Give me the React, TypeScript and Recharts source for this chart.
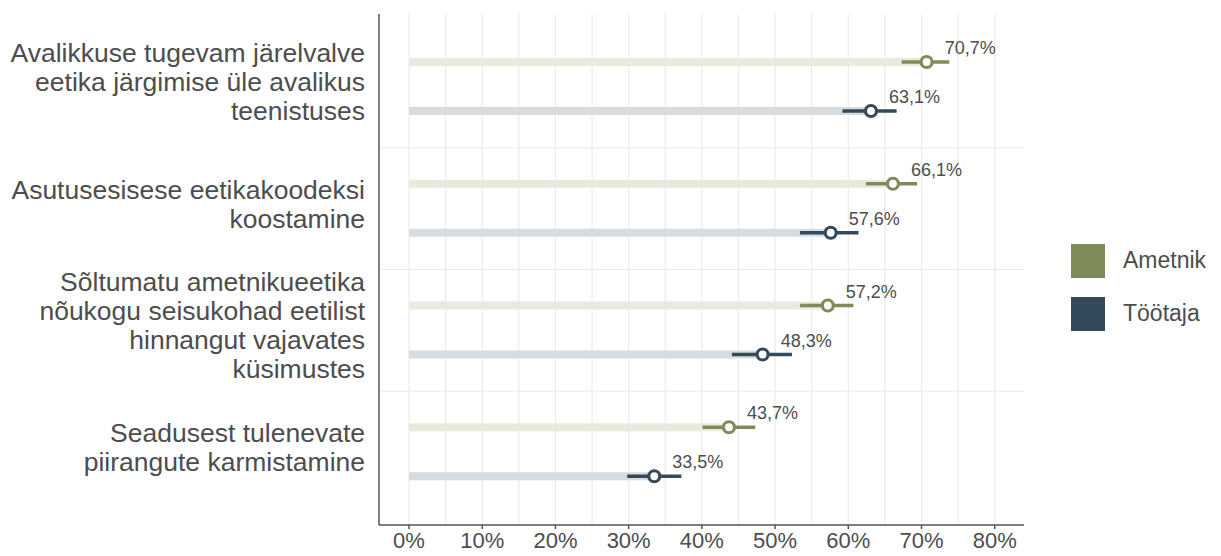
import React from 'react';
import {
  ComposedChart,
  Bar,
  ErrorBar,
  LabelList,
  XAxis,
  YAxis,
  CartesianGrid
} from 'recharts';

const categories = [
  'Avalikkuse tugevam järelvalve\neetika järgimise üle avalikus\nteenistuses',
  'Asutusesisese eetikakoodeksi\nkoostamine',
  'Sõltumatu ametnikueetika\nnõukogu seisukohad eetilist\nhinnangut vajavates\nküsimustes',
  'Seadusest tulenevate\npiirangute karmistamine'
];

const ametnikValues = [70.7, 66.1, 57.2, 43.7];
const ametnikLow = [67.3, 62.4, 53.4, 40.1];
const ametnikHigh = [73.8, 69.4, 60.7, 47.3];

const tootajaValues = [63.1, 57.6, 48.3, 33.5];
const tootajaLow = [59.2, 53.4, 44.1, 29.8];
const tootajaHigh = [66.6, 61.4, 52.3, 37.2];

const xTicks = [0, 10, 20, 30, 40, 50, 60, 70, 80];
const gridTicks = [0, 5, 10, 15, 20, 25, 30, 35, 40, 45, 50, 55, 60, 65, 70, 75, 80];
const X_DOMAIN: [number, number] = [-4.1, 84];

const series = [
  { key: 'ametnik', name: 'Ametnik', color: '#7f8c5a', light: '#e8eadd' },
  { key: 'tootaja', name: 'Töötaja', color: '#34495a', light: '#d6dce0' }
];

const TEXT = '#4d4d4d';
const FONT = '"Liberation Sans", Arial, sans-serif';

const data = categories.map((category, i) => ({
  category,
  ametnik: ametnikValues[i],
  ametnikErr: [ametnikValues[i] - ametnikLow[i], ametnikHigh[i] - ametnikValues[i]],
  tootaja: tootajaValues[i],
  tootajaErr: [tootajaValues[i] - tootajaLow[i], tootajaHigh[i] - tootajaValues[i]]
}));

const fmt = (v: number) => `${v.toFixed(1).replace('.', ',')}%`;

const CategoryTick = (props: any) => {
  const { x, y, payload } = props;
  const lines = String(payload.value).split('\n');
  const lh = 29;
  return (
    <text x={x} y={y} textAnchor="end" fill={TEXT} fontSize={26.5} fontFamily={FONT}>
      {lines.map((line, i) => (
        <tspan key={i} x={x - 6} y={y + (i - (lines.length - 1) / 2) * lh - 5} dy="0.36em">
          {line}
        </tspan>
      ))}
    </text>
  );
};

// circle marker + value label at the end of each background bar
const makeMarker = (color: string) => (props: any) => {
  const { x, y, width, height, value } = props;
  const cx = Number(x) + Number(width);
  const cy = Number(y) + Number(height) / 2;
  return (
    <g>
      <circle cx={cx} cy={cy} r={5.5} fill="#ffffff" stroke={color} strokeWidth={3.2} />
      <text x={cx + 18} y={cy - 8} fill={TEXT} fontSize={18} fontFamily={FONT}>
        {fmt(Number(value))}
      </text>
    </g>
  );
};

const verticalGrid = ({ xAxis, offset }: any) =>
  gridTicks.map((t) =>
    xAxis && typeof xAxis.scale === 'function'
      ? xAxis.scale(t)
      : offset.left + ((t - X_DOMAIN[0]) / (X_DOMAIN[1] - X_DOMAIN[0])) * offset.width
  );

const horizontalGrid = ({ yAxis, offset }: any) =>
  categories.slice(1).map((c, i) =>
    yAxis && typeof yAxis.scale === 'function'
      ? yAxis.scale(c)
      : offset.top + 12 + ((i + 1) * (offset.height - 24)) / categories.length
  );

export default function App() {
  return (
    <div style={{ position: 'relative', width: 1221, height: 556, background: '#fff' }}>
      <style>{'body{margin:0;}'}</style>
      <ComposedChart
        width={1221}
        height={556}
        data={data}
        layout="vertical"
        margin={{ top: 14, right: 197, bottom: 0, left: 0 }}
        barSize={8}
        barGap={41}
      >
        <CartesianGrid
          stroke="#ebebeb"
          strokeWidth={1.2}
          verticalCoordinatesGenerator={verticalGrid}
          horizontalCoordinatesGenerator={horizontalGrid}
        />
        <XAxis
          type="number"
          domain={X_DOMAIN}
          ticks={xTicks}
          allowDataOverflow
          tickFormatter={(v) => `${v}%`}
          height={31}
          tickSize={4}
          tickMargin={3}
          axisLine={{ stroke: '#555555', strokeWidth: 1.5 }}
          tickLine={{ stroke: '#555555', strokeWidth: 1.5 }}
          tick={{ fill: TEXT, fontSize: 22, fontFamily: FONT }}
        />
        <YAxis
          type="category"
          dataKey="category"
          width={379}
          padding={{ top: 12, bottom: 12 }}
          tickLine={false}
          axisLine={{ stroke: '#555555', strokeWidth: 1.5 }}
          tick={<CategoryTick />}
          interval={0}
        />
        {series.map((s) => (
          <Bar key={s.key} dataKey={s.key} name={s.name} fill={s.light} isAnimationActive={false}>
            <ErrorBar
              dataKey={`${s.key}Err`}
              direction="x"
              width={0}
              stroke={s.color}
              strokeWidth={3.5}
              isAnimationActive={false}
            />
            <LabelList dataKey={s.key} content={makeMarker(s.color)} />
          </Bar>
        ))}
      </ComposedChart>
      {/* legend */}
      <div style={{ position: 'absolute', left: 1071, top: 234, fontFamily: FONT }}>
        {series.map((s) => (
          <div key={s.key} style={{ display: 'flex', alignItems: 'center', height: 53 }}>
            <div style={{ width: 34, height: 34, background: s.color }} />
            <span style={{ marginLeft: 18, fontSize: 23, color: TEXT }}>{s.name}</span>
          </div>
        ))}
      </div>
    </div>
  );
}
